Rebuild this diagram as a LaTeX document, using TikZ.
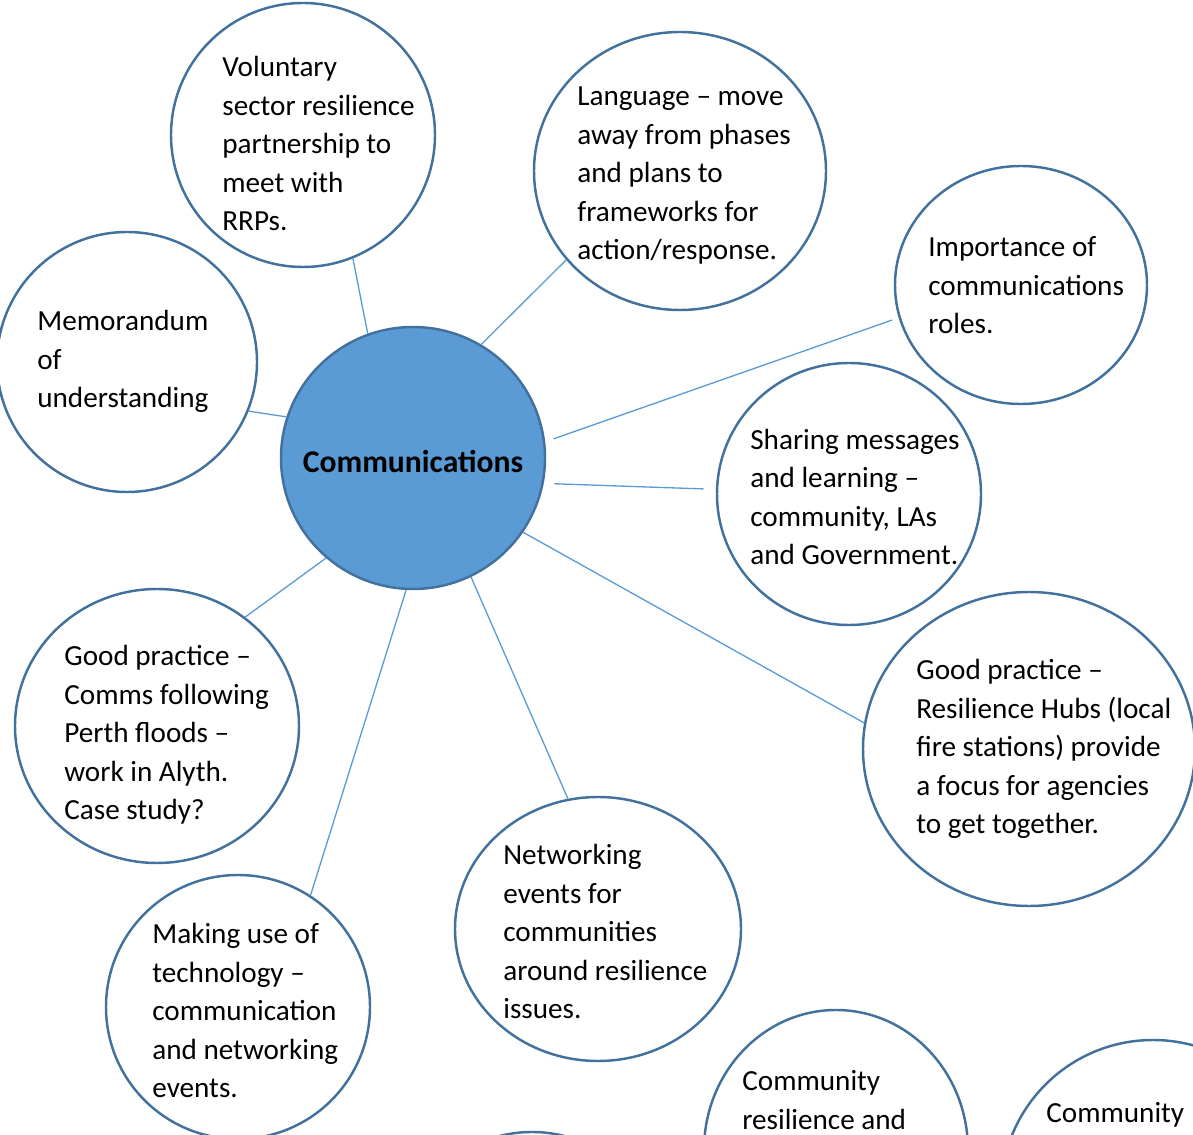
\documentclass[tikz,border=0pt]{standalone}
\usepackage{fontspec}
\setmainfont{Carlito}
\usepackage{tikz}
\usetikzlibrary{shapes.geometric}
\definecolor{ringblue}{RGB}{65,113,156}
\definecolor{hubblue}{RGB}{91,155,213}
\tikzset{
  dims/.style 2 args={minimum width=#1*0.2mm, minimum height=#2*0.2mm},
  bubble/.style={ellipse, draw=ringblue, fill=white, line width=1.4pt,
    inner sep=0pt},
  hub/.style={ellipse, draw=ringblue, fill=hubblue, line width=1.4pt,
    inner sep=0pt},
  txt/.style={anchor=base west, inner sep=0pt, align=left,
    font=\fontsize{16.6pt}{22pt}\selectfont},
  link/.style={draw=hubblue, line width=0.75pt}
}

\begin{document}
\begin{tikzpicture}[x=0.2mm, y=-0.2mm]
  \useasboundingbox (0,0) rectangle (1193,1135);
  \clip (0,0) rectangle (1193,1135);

  % Centre
  \node[hub, dims={264}{262}] (comm) at (413,458) {};
  \node at (413,461) [font=\fontsize{18pt}{22pt}\selectfont\bfseries] (comm-txt) {Communications};

  % Bubbles round the centre
  \node[bubble, dims={264}{264}] (vol) at (303,135) {};
  \node[bubble, dims={292}{278}] (lang) at (680,171) {};
  \node[bubble, dims={252}{238}] (imp) at (1021,285) {};
  \node[bubble, dims={260}{260}] (memo) at (127,362) {};
  \node[bubble, dims={264}{262}] (share) at (849,494) {};
  \node[bubble, dims={284}{274}] (floods) at (157,726) {};
  \node[bubble, dims={332}{314}] (hubs) at (1029,749) {};
  \node[bubble, dims={286}{264}] (net) at (598,929) {};
  \node[bubble, dims={264}{264}] (tech) at (238,1007) {};
  \node[bubble, dims={264}{280}] (comres) at (836,1150) {};
  \node[bubble, dims={304}{304}] (commr) at (1153,1192) {};
  \node[bubble, dims={264}{264}] (low) at (532,1264) {};

  % Spokes
  \foreach \a/\b/\c in {110.6/vol/292.7, 59.8/lang/218.7, 162.3/memo/338.5,
      326.4/hubs/171.2, 229/floods/51.7, 296.8/net/103.7, 267.2/tech/57.2}
    \draw[link] (comm.\a) -- (\b.\c);
  \draw[link, shorten <=5pt, shorten >=4pt] (comm.7.3) -- (imp.195.8);
  \draw[link, shorten <=6pt, shorten >=7pt] (comm.349.7) -- (share.178);

  % Texts (placed by the baseline of their last line)
  \node[txt] (vol-txt) at (222,231) {Voluntary\\sector resilience\\partnership to\\meet with\\RRPs.};
  \node[txt] (lang-txt) at (577,260) {Language – move\\away from phases\\and plans to\\frameworks for\\action/response.};
  \node[txt] (imp-txt) at (928,334) {Importance of\\communications\\roles.};
  \node[txt] (memo-txt) at (37,408) {Memorandum\\of\\understanding};
  \node[txt] (share-txt) at (750,565) {Sharing messages\\and learning –\\community, LAs\\and Government.};
  \node[txt] (floods-txt) at (64,820) {Good practice –\\Comms following\\Perth floods –\\work in Alyth.\\Case study?};
  \node[txt] (hubs-txt) at (916,834) {Good practice –\\Resilience Hubs (local\\fire stations) provide\\a focus for agencies\\to get together.};
  \node[txt] (net-txt) at (503,1019) {Networking\\events for\\communities\\around resilience\\issues.};
  \node[txt] (tech-txt) at (152,1098) {Making use of\\technology –\\communication\\and networking\\events.};
  \node[txt] (comres-txt) at (742,1129) {Community\\resilience and};
  \node[txt] (commr-txt) at (1046,1122) {Community};
\end{tikzpicture}
\end{document}
